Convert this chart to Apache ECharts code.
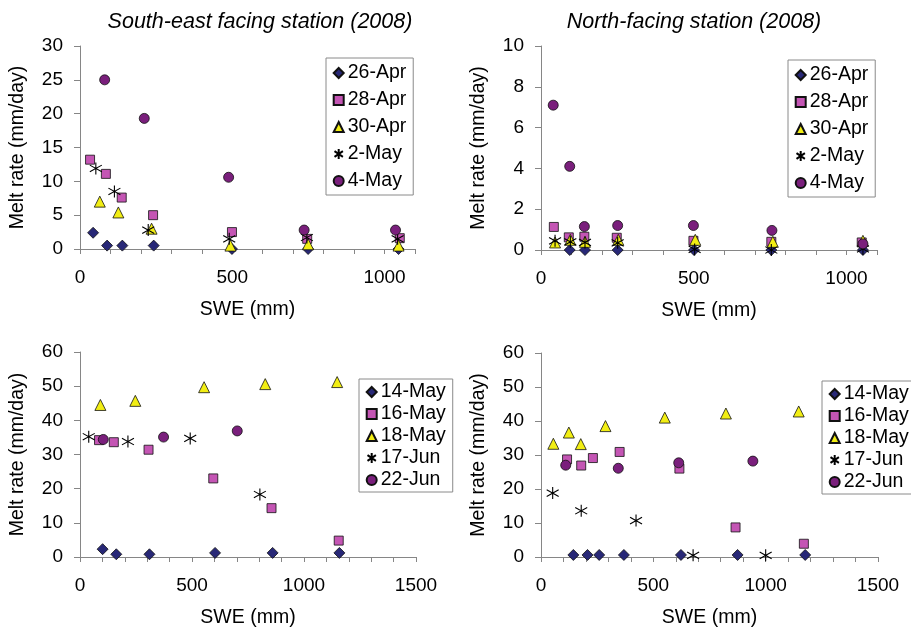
<!DOCTYPE html>
<html><head><meta charset="utf-8">
<script src="https://cdn.jsdelivr.net/npm/echarts@6/dist/echarts.min.js"></script>
<style>html,body{margin:0;padding:0;background:#fff}#c{width:911px;height:629px}</style>
</head><body><div id="c"></div>
<script>
// ---- Data (SWE in mm, melt rate in mm/day) ----
const seTitle = 'South-east facing station (2008)';
const nTitle = 'North-facing station (2008)';
const earlyNames = ['26-Apr', '28-Apr', '30-Apr', '2-May', '4-May'];
const lateNames = ['14-May', '16-May', '18-May', '17-Jun', '22-Jun'];

// South-east, early season
const seApr26X = [43, 89, 139, 242, 499, 749, 1046];
const seApr26Y = [2.4, 0.5, 0.5, 0.5, 0, 0, 0];
const seApr28X = [33, 85, 137, 240, 499, 746, 1050];
const seApr28Y = [13.2, 11.1, 7.6, 5.0, 2.5, 1.5, 1.6];
const seApr30X = [65, 126, 235, 494, 749, 1046];
const seApr30Y = [7.0, 5.4, 3.0, 0.5, 0.7, 0.5];
const seMay2X = [52, 113, 224, 490, 745, 1043];
const seMay2Y = [11.9, 8.5, 2.8, 1.5, 1.7, 1.5];
const seMay4X = [81, 211, 488, 736, 1036];
const seMay4Y = [25.0, 19.3, 10.6, 2.8, 2.8];

// North, early season
const nApr26X = [94, 144, 251, 501, 754, 1054];
const nApr26Y = [0, 0, 0, 0, 0, 0];
const nApr28X = [42, 91, 142, 248, 499, 754, 1050];
const nApr28Y = [1.13, 0.62, 0.65, 0.6, 0.45, 0.4, 0.37];
const nApr30X = [46, 96, 144, 253, 505, 759, 1054];
const nApr30Y = [0.37, 0.5, 0.4, 0.5, 0.5, 0.4, 0.45];
const nMay2X = [46, 96, 144, 251, 503, 754, 1054];
const nMay2Y = [0.45, 0.4, 0.37, 0.35, 0.03, 0, 0.05];
const nMay4X = [40, 94, 142, 251, 499, 756, 1054];
const nMay4Y = [7.1, 4.1, 1.15, 1.2, 1.2, 0.96, 0.3];

// South-east, late season
const seMay14X = [101, 162, 310, 603, 860, 1158];
const seMay14Y = [2.3, 0.8, 0.8, 1.2, 1.2, 1.2];
const seMay16X = [85, 151, 306, 595, 855, 1155];
const seMay16Y = [34.2, 33.6, 31.4, 23.0, 14.3, 4.8];
const seMay18X = [91, 247, 554, 827, 1148];
const seMay18Y = [44.5, 45.7, 49.7, 50.6, 51.2];
const seJun17X = [39, 214, 492, 803];
const seJun17Y = [35.2, 33.8, 34.7, 18.3];
const seJun22X = [104, 373, 702];
const seJun22Y = [34.4, 35.1, 36.9];

// North, late season
const nMay14X = [144, 207, 259, 369, 623, 875, 1176];
const nMay14Y = [0.6, 0.6, 0.6, 0.6, 0.6, 0.6, 0.6];
const nMay16X = [116, 179, 231, 350, 616, 866, 1170];
const nMay16Y = [28.7, 26.9, 29.1, 30.9, 26.0, 8.7, 3.9];
const nMay18X = [55, 124, 177, 287, 551, 823, 1147];
const nMay18Y = [33.3, 36.6, 33.2, 38.5, 41.0, 42.2, 42.8];
const nJun17X = [52, 179, 423, 677, 1000];
const nJun17Y = [18.8, 13.6, 10.7, 0.5, 0.5];
const nJun22X = [110, 344, 613, 943];
const nJun22Y = [27.0, 26.1, 27.7, 28.2];

// ---- Styling ----
const FONT = '"Liberation Sans", Arial, sans-serif';
const AXIS_COLOR = '#868686';
const STAR = 'path://M5,0L5,10M0.8,2.2L9.2,7.8M0.8,7.8L9.2,2.2';
const styles = [
  { symbol: 'diamond', size: 11, color: '#282877' },
  { symbol: 'rect', size: 9, color: '#c455b4' },
  { symbol: 'triangle', size: 11, color: '#f2ee14' },
  { symbol: STAR, size: 12, color: '#000', star: true },
  { symbol: 'circle', size: 10, color: '#7a1f7c' }
];

function pairs(xs, ys) { return xs.map((x, i) => [x, ys[i]]); }

const grids = [
  { left: 80, top: 46, width: 335, height: 203 },
  { left: 541, top: 46, width: 336, height: 204 },
  { left: 80, top: 352, width: 336, height: 205 },
  { left: 541, top: 353, width: 337, height: 206 }
];

function xAxis(gi, max) {
  return {
    type: 'value', gridIndex: gi, min: 0, max: max, interval: 100,
    name: 'SWE (mm)', nameLocation: 'middle', nameGap: 51,
    nameTextStyle: { fontFamily: FONT, fontSize: 19.5, color: '#000' },
    axisLine: { show: true, onZero: false, lineStyle: { color: AXIS_COLOR, width: 1 } },
    axisTick: { show: true, length: 5, lineStyle: { color: AXIS_COLOR } },
    axisLabel: { margin: 19, fontFamily: FONT, fontSize: 19, color: '#000',
      formatter: v => (v % 500 === 0 ? String(v) : '') },
    splitLine: { show: false }
  };
}
function yAxis(gi, max, interval) {
  return {
    type: 'value', gridIndex: gi, min: 0, max: max, interval: interval,
    name: 'Melt rate (mm/day)', nameLocation: 'middle', nameGap: 52,
    nameTextStyle: { fontFamily: FONT, fontSize: 19.5, color: '#000' },
    axisLine: { show: true, lineStyle: { color: AXIS_COLOR, width: 1 } },
    axisTick: { show: true, length: 6, lineStyle: { color: AXIS_COLOR } },
    axisLabel: { margin: 17, fontFamily: FONT, fontSize: 19, color: '#000' },
    splitLine: { show: false }
  };
}

function makeSeries(gi, names, xs, ys) {
  return names.map((n, i) => {
    const s = styles[i];
    return {
      name: n, type: 'scatter', xAxisIndex: gi, yAxisIndex: gi,
      symbol: s.symbol, symbolSize: s.size,
      data: pairs(xs[i], ys[i]),
      itemStyle: s.star
        ? { color: 'none', borderColor: '#000', borderWidth: 1.1, opacity: 1 }
        : { color: s.color, borderColor: '#111', borderWidth: 0.8, opacity: 1 },
      emphasis: { disabled: true },
      z: 2 + i
    };
  });
}

function legend(names, left, top, gap, pad) {
  return {
    data: names, orient: 'vertical', left: left, top: top,
    itemGap: gap, itemWidth: 10, itemHeight: 10,
    padding: pad,
    borderColor: '#8a8a8a', borderWidth: 1, backgroundColor: '#fff',
    selectedMode: false,
    textStyle: { fontFamily: FONT, fontSize: 19.5, color: '#000', padding: [0, 0, 0, -1] }
  };
}

const series = [].concat(
  makeSeries(0, earlyNames, [seApr26X, seApr28X, seApr30X, seMay2X, seMay4X], [seApr26Y, seApr28Y, seApr30Y, seMay2Y, seMay4Y]),
  makeSeries(1, earlyNames, [nApr26X, nApr28X, nApr30X, nMay2X, nMay4X], [nApr26Y, nApr28Y, nApr30Y, nMay2Y, nMay4Y]),
  makeSeries(2, lateNames, [seMay14X, seMay16X, seMay18X, seJun17X, seJun22X], [seMay14Y, seMay16Y, seMay18Y, seJun17Y, seJun22Y]),
  makeSeries(3, lateNames, [nMay14X, nMay16X, nMay18X, nJun17X, nJun22X], [nMay14Y, nMay16Y, nMay18Y, nJun17Y, nJun22Y])
);

const chart = echarts.init(document.getElementById('c'), null, { renderer: 'canvas' });
chart.setOption({
  animation: false,
  backgroundColor: '#fff',
  title: [
    { text: seTitle, left: 255, top: 6, textAlign: 'center',
      textStyle: { fontFamily: FONT, fontSize: 21.5, fontStyle: 'italic', fontWeight: 'normal', color: '#000' } },
    { text: nTitle, left: 689, top: 6, textAlign: 'center',
      textStyle: { fontFamily: FONT, fontSize: 21.5, fontStyle: 'italic', fontWeight: 'normal', color: '#000' } }
  ],
  grid: grids,
  xAxis: [xAxis(0, 1100), xAxis(1, 1100), xAxis(2, 1500), xAxis(3, 1500)],
  yAxis: [yAxis(0, 30, 5), yAxis(1, 10, 2), yAxis(2, 60, 10), yAxis(3, 60, 10)],
  legend: [
    legend(earlyNames, 326, 58, 7, [5, 7, 4, 6]),
    legend(earlyNames, 788, 60, 7, [5, 7, 4, 6]),
    legend(lateNames, 359, 379, 2, [3, 7, 2, 6]),
    legend(lateNames, 822, 381, 2, [3, 7, 2, 6])
  ],
  series: series
});
</script></body></html>
